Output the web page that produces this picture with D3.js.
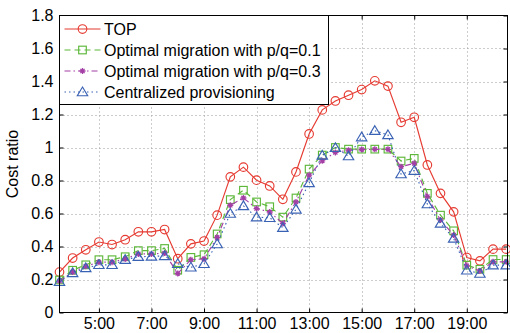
<!DOCTYPE html>
<html>
<head>
<meta charset="utf-8">
<script src="https://cdn.jsdelivr.net/npm/d3@7/dist/d3.min.js"></script>
<style>
  html, body { margin: 0; padding: 0; background: #fff; }
  svg { display: block; font-family: "Liberation Sans", Arial, Helvetica, sans-serif; }
</style>
</head>
<body>
<svg id="chart" width="510" height="333"></svg>
<script>
// Half-hourly sample times
const times = ["3:30","4:00","4:30","5:00","5:30","6:00","6:30","7:00","7:30","8:00","8:30","9:00",
  "9:30","10:00","10:30","11:00","11:30","12:00","12:30","13:00","13:30","14:00","14:30","15:00",
  "15:30","16:00","16:30","17:00","17:30","18:00","18:30","19:00","19:30","20:00","20:30"];

// Cost ratio for each strategy
const topCost = [0.245,0.33,0.38,0.427,0.412,0.441,0.489,0.489,0.503,0.326,0.416,0.433,
  0.59,0.822,0.881,0.802,0.767,0.686,0.852,1.082,1.228,1.282,1.317,1.351,
  1.404,1.372,1.153,1.183,0.894,0.722,0.61,0.333,0.313,0.384,0.384];
const migration01 = [0.197,0.256,0.289,0.32,0.32,0.338,0.375,0.375,0.388,0.256,0.334,0.35,
  0.476,0.684,0.741,0.67,0.641,0.578,0.694,0.869,0.954,1.0,0.99,0.99,
  0.99,0.99,0.918,0.934,0.722,0.59,0.495,0.287,0.262,0.321,0.321];
const migration03 = [0.19,0.245,0.28,0.305,0.305,0.325,0.355,0.355,0.36,0.237,0.32,0.325,
  0.455,0.65,0.694,0.63,0.609,0.54,0.67,0.832,0.919,0.97,0.984,0.988,
  0.989,0.989,0.884,0.904,0.702,0.56,0.469,0.283,0.252,0.307,0.307];
const centralized = [0.186,0.24,0.27,0.289,0.289,0.32,0.338,0.34,0.343,0.295,0.274,0.295,
  0.415,0.6,0.646,0.578,0.574,0.514,0.625,0.785,0.952,0.998,0.948,1.063,
  1.102,1.076,0.839,0.86,0.657,0.54,0.449,0.256,0.236,0.287,0.287];

const xTickLabels = ["5:00","7:00","9:00","11:00","13:00","15:00","17:00","19:00"];
const yTicks = [0,0.2,0.4,0.6,0.8,1,1.2,1.4,1.6,1.8];
const seriesNames = ["TOP","Optimal migration with p/q=0.1","Optimal migration with p/q=0.3","Centralized provisioning"];

const toHours = s => { const [h, m] = s.split(":").map(Number); return h + m / 60; };

const svg = d3.select("#chart");
const plotL = 59.5, plotR = 507.5, plotT = 15.5, plotB = 312.5;

const x = d3.scaleLinear().domain([3.5, 20.55]).range([plotL, plotR]);
const y = d3.scaleLinear().domain([0, 1.8]).range([plotB, plotT]);

// Dotted grid
const grid = svg.append("g").attr("stroke", "#9a9a9a").attr("stroke-width", 1)
  .attr("stroke-dasharray", "1,3");
xTickLabels.forEach(t => {
  const px = Math.round(x(toHours(t))) + 0.5;
  grid.append("line").attr("x1", px).attr("x2", px).attr("y1", plotT).attr("y2", plotB);
});
yTicks.slice(1, -1).forEach(v => {
  const py = Math.round(y(v)) + 0.5;
  grid.append("line").attr("x1", plotL).attr("x2", plotR).attr("y1", py).attr("y2", py);
});

// Axes via d3 axis generators (inward ticks)
const fontSize = "16px";
const yAxis = svg.append("g").attr("transform", `translate(${plotL},0)`)
  .call(d3.axisLeft(y).tickValues(yTicks).tickSize(-4).tickPadding(6).tickFormat(d3.format("~g")));
const xAxis = svg.append("g").attr("transform", `translate(0,${plotB})`)
  .call(d3.axisBottom(x).tickValues(xTickLabels.map(toHours)).tickSize(-4).tickPadding(5)
    .tickFormat((d, i) => xTickLabels[i]));
svg.append("g").attr("transform", `translate(${plotR},0)`)
  .call(d3.axisRight(y).tickValues(yTicks).tickSize(-4).tickFormat(""));
svg.append("g").attr("transform", `translate(0,${plotT})`)
  .call(d3.axisTop(x).tickValues(xTickLabels.map(toHours)).tickSize(-4).tickFormat(""));
svg.selectAll(".domain").remove();
svg.selectAll(".tick line").attr("stroke", "#000");
[yAxis, xAxis].forEach(a => a.selectAll("text").attr("font-size", fontSize).attr("fill", "#000")
  .attr("font-family", "'Liberation Sans', Arial, sans-serif"));

// Y label
svg.append("text").attr("transform", `translate(18,${(plotT + plotB) / 2}) rotate(-90)`)
  .attr("text-anchor", "middle").attr("font-size", fontSize).text("Cost ratio");

// Series styles
const series = [
  { name: seriesNames[0], values: topCost, color: "#e63b32", dash: null, marker: "circle" },
  { name: seriesNames[1], values: migration01, color: "#5db83a", dash: "6,4", marker: "square" },
  { name: seriesNames[2], values: migration03, color: "#a43fa6", dash: "6,3,1.5,3", marker: "star" },
  { name: seriesNames[3], values: centralized, color: "#3a62b4", dash: "1.5,3", marker: "triangle" }
];

function drawMarker(g, type, cx, cy, color) {
  if (type === "circle") {
    g.append("circle").attr("cx", cx).attr("cy", cy).attr("r", 4.3)
      .attr("fill", "none").attr("stroke", color).attr("stroke-width", 1.15);
  } else if (type === "square") {
    g.append("rect").attr("x", cx - 3.8).attr("y", cy - 3.8).attr("width", 7.6).attr("height", 7.6)
      .attr("fill", "none").attr("stroke", color).attr("stroke-width", 1.15);
  } else if (type === "star") {
    const s = 3;
    g.append("path").attr("d",
      `M${cx - s},${cy}L${cx + s},${cy}M${cx},${cy - s}L${cx},${cy + s}` +
      `M${cx - s * 0.7},${cy - s * 0.7}L${cx + s * 0.7},${cy + s * 0.7}` +
      `M${cx - s * 0.7},${cy + s * 0.7}L${cx + s * 0.7},${cy - s * 0.7}`)
      .attr("stroke", color).attr("stroke-width", 1.3).attr("fill", "none");
  } else if (type === "triangle") {
    g.append("path").attr("d", `M${cx},${cy - 5}L${cx + 5.2},${cy + 3.7}L${cx - 5.2},${cy + 3.7}Z`)
      .attr("fill", "none").attr("stroke", color).attr("stroke-width", 1.15);
  }
}

const line = d3.line().x((d, i) => x(toHours(times[i]))).y(d => y(d));
series.forEach(s => {
  const g = svg.append("g");
  g.append("path").attr("d", line(s.values)).attr("fill", "none")
    .attr("stroke", s.color).attr("stroke-width", 1.15)
    .attr("stroke-dasharray", s.dash);
  s.values.forEach((v, i) => drawMarker(g, s.marker, x(toHours(times[i])), y(v), s.color));
});

// Axes box
svg.append("rect").attr("x", plotL).attr("y", plotT).attr("width", plotR - plotL).attr("height", plotB - plotT)
  .attr("fill", "none").attr("stroke", "#000").attr("stroke-width", 1);

// Legend
const legW = 269, legH = 89, rowH = 21;
const leg = svg.append("g");
leg.append("rect").attr("x", plotL).attr("y", plotT).attr("width", legW).attr("height", legH)
  .attr("fill", "#fff").attr("stroke", "#000").attr("stroke-width", 1);
series.forEach((s, i) => {
  const cy = plotT + 13.5 + i * rowH;
  leg.append("line").attr("x1", plotL + 5).attr("x2", plotL + 41).attr("y1", cy).attr("y2", cy)
    .attr("stroke", s.color).attr("stroke-width", 1.15).attr("stroke-dasharray", s.dash);
  drawMarker(leg, s.marker, plotL + 23, cy, s.color);
  leg.append("text").attr("x", plotL + 44.5).attr("y", cy).attr("dy", "0.36em")
    .attr("font-size", fontSize).attr("fill", "#000").text(s.name);
});
</script>
</body>
</html>
